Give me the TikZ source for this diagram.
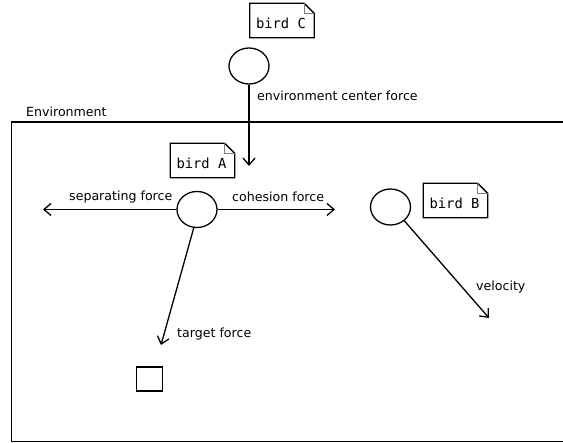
\documentclass[tikz,border=0pt]{standalone}
\usepackage{fontspec}
\setmainfont{DejaVu Sans}
\setmonofont{DejaVu Sans Mono}
\usetikzlibrary{arrows.meta,shapes.geometric}
\tikzset{
  bird/.style={draw, line width=1.3pt, ellipse, minimum width=40pt, minimum height=36pt, inner sep=0pt},
  force/.style={line width=1.3pt, -{Straight Barb[length=7pt,width=12pt,line width=1.3pt]}},
  lbl/.style={font=\fontsize{12.6}{14}\selectfont, inner sep=0pt, anchor=base west},
  notebox/.style={font=\ttfamily\fontsize{13.8}{15}\selectfont, inner sep=0pt, minimum width=64pt, minimum height=34pt},
  notetext/.style={font=\ttfamily\fontsize{13.8}{15}\selectfont, inner sep=0pt},
}
% outline of a note with a folded top-right corner
\newcommand{\drawnote}[1]{%
  \draw[line width=1.3pt] (#1.south west) -- (#1.north west) -- ([xshift=-10pt]#1.north east)
    -- ([yshift=-10pt]#1.north east) -- (#1.south east) -- cycle;
  \draw[line width=0.8pt, gray] ([xshift=-10pt]#1.north east) -- ([xshift=-10pt,yshift=-10pt]#1.north east)
    -- ([yshift=-10pt]#1.north east);
}
\begin{document}
\begin{tikzpicture}[x=1pt,y=-1pt]
\useasboundingbox (0,0) rectangle (563,443);

% environment area, open to the right
\draw[line width=1.5pt] (563,122) -- (11.5,122) -- (11.5,441.5) -- (563,441.5);
\node[lbl] (envlbl) at (26,117) {Environment};

% notes
\node[notebox] (noteC) at (282,20.5) {};
\node[notetext] (tC) at (281,23) {bird C};
\drawnote{noteC}
\node[notebox] (noteA) at (202.5,160.5) {};
\node[notetext] (tA) at (201.5,163) {bird A};
\drawnote{noteA}
\node[notebox] (noteB) at (455.5,200.5) {};
\node[notetext] (tB) at (454.5,203) {bird B};
\drawnote{noteB}

% birds
\node[bird] (C) at (249,66) {};
\node[bird] (A) at (197,209.5) {};
\node[bird] (B) at (390.5,207) {};

% target
\node[draw, line width=1.5pt, minimum width=26pt, minimum height=24pt, inner sep=0pt] (T) at (149.5,379) {};

% force end points
\coordinate (cEnd) at (249,166);
\coordinate (sEnd) at (43,209.5);
\coordinate (hEnd) at (335,209.5);
\coordinate (tEnd) at (161,345);
\coordinate (vEnd) at (489,318);

\draw[force] (C.south) -- (cEnd);
\draw[force] (A.west) -- (sEnd);
\draw[force] (A.east) -- (hEnd);
\draw[force] (A.-100) -- (tEnd);
\draw[force] (B.-45) -- (vEnd);

% labels
\node[lbl] (lc) at (257,100.5) {environment center force};
\node[lbl] (ls) at (69,200.5) {separating force};
\node[lbl] (lh) at (232,201.5) {cohesion force};
\node[lbl] (lt) at (177,337.5) {target force};
\node[lbl] (lv) at (476,290.5) {velocity};
\end{tikzpicture}
\end{document}
